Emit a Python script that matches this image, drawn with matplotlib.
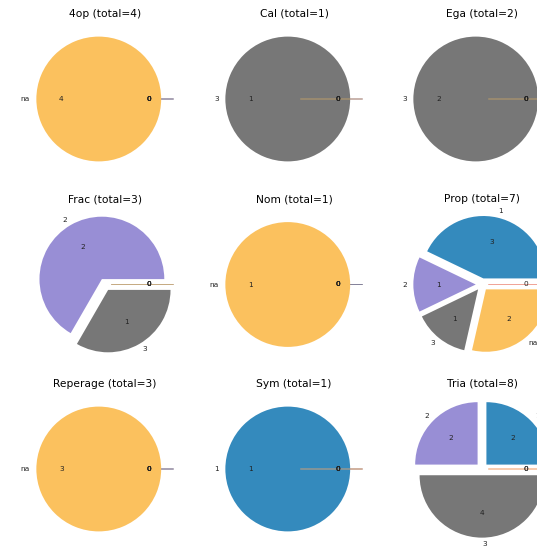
import matplotlib
matplotlib.use("Agg")
import matplotlib.pyplot as plt

plt.style.use('ggplot')

categories = ['0', '1', '2', '3', 'na']
colors = ['#E24A33', '#348ABD', '#988ED5', '#777777', '#FBC15E']

titles = ['4op', 'Cal', 'Ega', 'Frac', 'Nom', 'Prop', 'Reperage', 'Sym', 'Tria']
counts = {
    '4op':      [0, 0, 0, 0, 4],
    'Cal':      [0, 0, 0, 1, 0],
    'Ega':      [0, 0, 0, 2, 0],
    'Frac':     [0, 0, 2, 1, 0],
    'Nom':      [0, 0, 0, 0, 1],
    'Prop':     [0, 3, 1, 1, 2],
    'Reperage': [0, 0, 0, 0, 3],
    'Sym':      [0, 1, 0, 0, 0],
    'Tria':     [0, 2, 2, 4, 0],
}

W, H = 537, 548
fig = plt.figure(figsize=(W / 100, H / 100), dpi=100)

col_x = [105, 294, 482]
row_y = [99, 284.5, 469]
side = 156

for i, name in enumerate(titles):
    cx = col_x[i % 3]
    cy = row_y[i // 3]
    ax = fig.add_axes([(cx - side / 2) / W, 1 - (cy + side / 2) / H, side / W, side / H])
    vals = counts[name]
    total = sum(vals)
    labels = [c if v > 0 else '' for c, v in zip(categories, vals)]
    wedges, _, _ = ax.pie(vals, labels=labels, colors=colors, explode=[0.1] * len(vals),
                          autopct=lambda p, t=total: '{:d}'.format(int(round(p * t / 100))),
                          textprops={'fontsize': 5.35, 'color': '#222222'})
    # zero-size slices show up as thin lines in their own colour
    for w in wedges:
        w.set_edgecolor(w.get_facecolor())
        w.set_linewidth(0.6)
        w.set_alpha(0.6)
    for w, v in zip(wedges, vals):
        if v > 0:
            w.set_alpha(1)
            w.set_linewidth(0)
    ax.set_title('{} (total={})'.format(name, total), fontsize=7.7, pad=3.2)

fig.savefig('out.png', dpi=100)
